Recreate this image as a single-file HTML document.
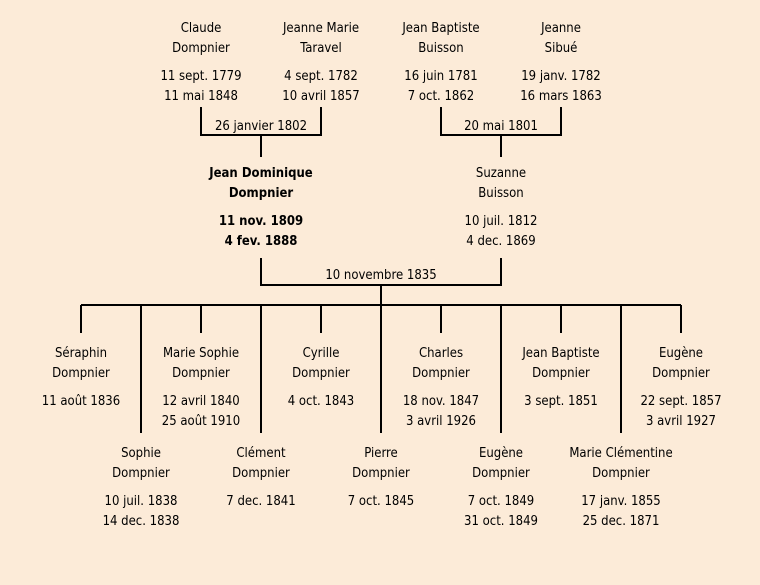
<!DOCTYPE html>
<html><head><meta charset="utf-8"><style>
html,body{margin:0;padding:0;background:#fcebd8;}
svg{display:block}
text{font-family:"Comic Sans MS","DejaVu Sans Condensed","Liberation Sans",sans-serif;font-size:13px;fill:#000;text-anchor:middle}
.b{font-weight:bold}
</style></head><body>
<svg width="760" height="585" viewBox="0 0 760 585" xmlns="http://www.w3.org/2000/svg">
<rect width="760" height="585" fill="#fcebd8"/>
<g stroke="#000" stroke-width="2" fill="none">
<path d="M201 107V135H321V107M261 135V157"/>
<path d="M441 107V135H561V107M501 135V157"/>
<path d="M261 258V285H501V258M381 285V305"/>
<path d="M81 305H681"/>
<path d="M81 305V333M201 305V333M321 305V333M441 305V333M561 305V333M681 305V333"/>
<path d="M141 305V433M261 305V433M381 305V433M501 305V433M621 305V433"/>
</g>
<g>
<text x="201" y="32">Claude</text><text x="201" y="52">Dompnier</text><text x="201" y="80">11 sept. 1779</text><text x="201" y="100">11 mai 1848</text>
<text x="321" y="32">Jeanne Marie</text><text x="321" y="52">Taravel</text><text x="321" y="80">4 sept. 1782</text><text x="321" y="100">10 avril 1857</text>
<text x="441" y="32">Jean Baptiste</text><text x="441" y="52">Buisson</text><text x="441" y="80">16 juin 1781</text><text x="441" y="100">7 oct. 1862</text>
<text x="561" y="32">Jeanne</text><text x="561" y="52">Sibué</text><text x="561" y="80">19 janv. 1782</text><text x="561" y="100">16 mars 1863</text>
<text x="261" y="130">26 janvier 1802</text><text x="501" y="130">20 mai 1801</text>
<text class="b" x="261" y="177">Jean Dominique</text><text class="b" x="261" y="197">Dompnier</text><text class="b" x="261" y="225">11 nov. 1809</text><text class="b" x="261" y="245">4 fev. 1888</text>
<text x="501" y="177">Suzanne</text><text x="501" y="197">Buisson</text><text x="501" y="225">10 juil. 1812</text><text x="501" y="245">4 dec. 1869</text>
<text x="381" y="279">10 novembre 1835</text>
<text x="81" y="357">Séraphin</text><text x="81" y="377">Dompnier</text><text x="81" y="405">11 août 1836</text>
<text x="201" y="357">Marie Sophie</text><text x="201" y="377">Dompnier</text><text x="201" y="405">12 avril 1840</text><text x="201" y="425">25 août 1910</text>
<text x="321" y="357">Cyrille</text><text x="321" y="377">Dompnier</text><text x="321" y="405">4 oct. 1843</text>
<text x="441" y="357">Charles</text><text x="441" y="377">Dompnier</text><text x="441" y="405">18 nov. 1847</text><text x="441" y="425">3 avril 1926</text>
<text x="561" y="357">Jean Baptiste</text><text x="561" y="377">Dompnier</text><text x="561" y="405">3 sept. 1851</text>
<text x="681" y="357">Eugène</text><text x="681" y="377">Dompnier</text><text x="681" y="405">22 sept. 1857</text><text x="681" y="425">3 avril 1927</text>
<text x="141" y="457">Sophie</text><text x="141" y="477">Dompnier</text><text x="141" y="505">10 juil. 1838</text><text x="141" y="525">14 dec. 1838</text>
<text x="261" y="457">Clément</text><text x="261" y="477">Dompnier</text><text x="261" y="505">7 dec. 1841</text>
<text x="381" y="457">Pierre</text><text x="381" y="477">Dompnier</text><text x="381" y="505">7 oct. 1845</text>
<text x="501" y="457">Eugène</text><text x="501" y="477">Dompnier</text><text x="501" y="505">7 oct. 1849</text><text x="501" y="525">31 oct. 1849</text>
<text x="621" y="457">Marie Clémentine</text><text x="621" y="477">Dompnier</text><text x="621" y="505">17 janv. 1855</text><text x="621" y="525">25 dec. 1871</text>
</g>
</svg>
</body></html>
